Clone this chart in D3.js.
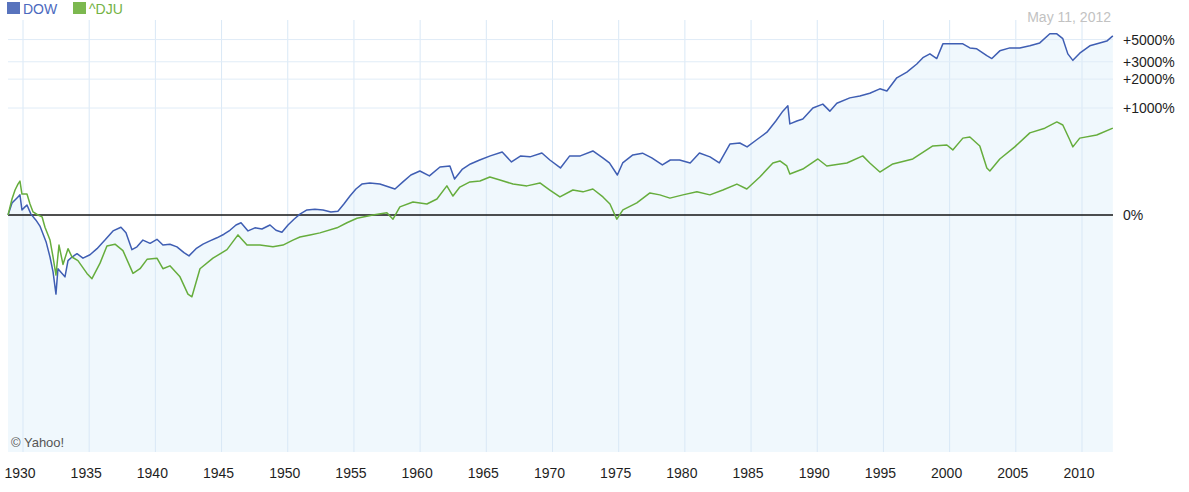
<!DOCTYPE html>
<html>
<head>
<meta charset="utf-8">
<script src="https://cdnjs.cloudflare.com/ajax/libs/d3/7.8.5/d3.min.js"></script>
<style>
  body { margin: 0; background: #fff; }
  svg { display: block; font-family: "Liberation Sans", Arial, sans-serif; }
</style>
</head>
<body>
<div class="chart"></div>
<script>
// percent change since first close
var dowYears = [1928.87, 1929.17, 1929.62, 1929.77, 1929.92, 1930.15, 1930.3, 1930.6, 1930.98, 1931.28,
  1931.74, 1932.04, 1932.27, 1932.49, 1932.64, 1932.95, 1933.17, 1933.4, 1933.7, 1934.08,
  1934.53, 1935.06, 1935.59, 1936.19, 1936.8, 1937.4, 1937.78, 1938.23, 1938.61, 1939.06,
  1939.6, 1940.12, 1940.57, 1941.1, 1941.63, 1942.16, 1942.54, 1943.07, 1943.6, 1944.12,
  1944.65, 1945.18, 1945.63, 1946.09, 1946.47, 1947.0, 1947.52, 1948.05, 1948.66, 1949.11,
  1949.56, 1950.02, 1950.47, 1950.92, 1951.45, 1952.05, 1952.66, 1953.26, 1953.79, 1954.24,
  1954.7, 1955.15, 1955.6, 1956.2, 1956.96, 1958.1, 1958.7, 1959.3, 1959.98, 1960.7,
  1961.5, 1962.25, 1962.6, 1963.2, 1963.8, 1964.5, 1965.3, 1966.2, 1966.9, 1967.6,
  1968.3, 1969.2, 1969.8, 1970.6, 1971.3, 1972.1, 1973.05, 1973.8, 1974.3, 1974.9,
  1975.3, 1976.07, 1976.8, 1977.5, 1978.3, 1978.9, 1979.6, 1980.4, 1981.1, 1981.9,
  1982.6, 1983.4, 1984.15, 1984.7, 1985.4, 1986.2, 1986.87, 1987.4, 1987.78, 1987.93,
  1988.46, 1988.91, 1989.67, 1990.42, 1990.95, 1991.48, 1992.46, 1993.22, 1993.97, 1994.73,
  1995.26, 1996.01, 1996.77, 1997.52, 1997.98, 1998.51, 1999.03, 1999.49, 2000.24, 2001.0,
  2001.53, 2002.05, 2002.81, 2003.19, 2003.79, 2004.55, 2005.3, 2006.06, 2006.81, 2007.57,
  2008.1, 2008.55, 2008.93, 2009.31, 2009.83, 2010.59, 2011.34, 2011.87, 2012.33];
var dowChange = [0, 31, 50, 57, 12, 20, 25, 2, -11, -22,
  -45, -61, -72, -83, -70, -73, -75, -64, -61, -58,
  -62, -59, -53, -43, -30, -24, -33, -54, -51, -43,
  -47, -42, -49, -48, -51, -57, -60, -53, -48, -44,
  -40, -35, -29, -20, -16, -30, -25, -27, -20, -29,
  -32, -20, -9, 2, 12, 14, 12, 7, 9, 28,
  53, 79, 100, 105, 100, 79, 110, 145, 168, 140,
  193, 200, 124, 180, 214, 243, 276, 310, 228, 276,
  268, 301, 243, 187, 276, 276, 320, 260, 221, 145,
  221, 284, 300, 260, 207, 243, 243, 221, 301, 268,
  221, 390, 402, 360, 437, 540, 722, 925, 1055, 670,
  722, 760, 1000, 1100, 925, 1125, 1280, 1340, 1430, 1590,
  1510, 2065, 2360, 2850, 3300, 3600, 3230, 4530, 4530, 4530,
  4130, 4040, 3450, 3230, 3860, 4130, 4130, 4330, 4630, 5700,
  5700, 5100, 3600, 3100, 3660, 4330, 4630, 4830, 5440];

var djuYears = [1928.87, 1929.17, 1929.4, 1929.62, 1929.77, 1929.92, 1930.3, 1930.53, 1930.76, 1931.13,
  1931.44, 1931.66, 1932.04, 1932.27, 1932.49, 1932.72, 1933.02, 1933.4, 1933.7, 1934.15,
  1934.83, 1935.21, 1935.82, 1936.34, 1936.95, 1937.55, 1938.31, 1938.84, 1939.37, 1940.12,
  1940.57, 1941.1, 1941.86, 1942.46, 1942.76, 1943.37, 1944.35, 1945.41, 1946.24, 1946.92,
  1947.9, 1948.88, 1949.64, 1950.39, 1950.92, 1951.68, 1952.43, 1953.72, 1954.47, 1955.23,
  1956.43, 1957.49, 1957.95, 1958.47, 1959.46, 1960.51, 1961.27, 1962.02, 1962.48, 1963.0,
  1963.76, 1964.52, 1965.27, 1966.03, 1967.02, 1968.07, 1969.05, 1969.8, 1970.56, 1971.54,
  1972.3, 1973.05, 1973.81, 1974.34, 1974.86, 1975.32, 1976.37, 1977.36, 1978.11, 1978.87,
  1979.85, 1980.91, 1981.89, 1982.87, 1983.93, 1984.68, 1985.66, 1986.65, 1987.18, 1987.7,
  1987.93, 1988.91, 1990.05, 1990.72, 1992.24, 1993.44, 1993.97, 1994.73, 1995.71, 1997.22,
  1998.73, 1999.79, 2000.24, 2001.0, 2001.53, 2002.28, 2002.81, 2003.04, 2003.79, 2004.92,
  2006.06, 2007.19, 2008.1, 2008.55, 2009.08, 2009.31, 2009.83, 2011.11, 2012.33];
var djuChange = [0, 43, 75, 100, 114, 60, 60, 28, 7, 0,
  -4, -24, -43, -61, -74, -49, -67, -53, -61, -64,
  -73, -76, -66, -50, -48, -55, -73, -70, -63, -62,
  -70, -68, -75, -83, -84, -70, -62, -54, -36, -49,
  -49, -51, -49, -43, -39, -36, -33, -25, -16, -7,
  0, 5, -9, 20, 34, 28, 43, 92, 53, 87,
  110, 114, 134, 119, 100, 92, 105, 75, 50, 75,
  68, 79, 50, 28, -9, 12, 31, 64, 57, 46,
  57, 68, 57, 75, 100, 79, 134, 221, 236, 200,
  151, 180, 251, 200, 221, 276, 221, 162, 214, 251,
  370, 380, 330, 460, 475, 370, 187, 168, 251, 360,
  530, 600, 705, 652, 437, 360, 460, 500, 600];

var tickYears = [1930, 1935, 1940, 1945, 1950, 1955, 1960, 1965, 1970, 1975, 1980,
  1985, 1990, 1995, 2000, 2005, 2010];
var tickPct = [5000, 3000, 2000, 1000, 0];

var dow = dowYears.map((t, i) => ({ t: t, v: 1 + dowChange[i] / 100 }));
var dju = djuYears.map((t, i) => ({ t: t, v: 1 + djuChange[i] / 100 }));

/////////////// LAYOUT ///////////////
var width = 1189, height = 492;
var plot = { left: 8, right: 1113, top: 20, bottom: 452 };

var svg = d3.select('.chart')
  .append('svg')
  .attr('width', width)
  .attr('height', height);

var xScale = d3.scaleLinear()
  .domain([1930, 2010])
  .range([23, 1082]);

// log scale on the growth ratio: 0% and +1000% anchor it
var yScale = d3.scaleLog()
  .domain([1, 11])
  .range([215, 108]);

// area under the DOW line
var area = d3.area()
  .x(d => xScale(d.t))
  .y0(plot.bottom)
  .y1(d => yScale(d.v));

svg.append('path')
  .attr('d', area(dow))
  .style('fill', '#f0f8fd');

// grid
svg.selectAll('.vgrid')
  .data(tickYears)
  .enter()
  .append('line')
  .attr('class', 'vgrid')
  .attr('x1', d => xScale(d))
  .attr('x2', d => xScale(d))
  .attr('y1', plot.top)
  .attr('y2', plot.bottom)
  .style('stroke', '#d9e8f6')
  .style('stroke-width', 1);

svg.selectAll('.hgrid')
  .data(tickPct.filter(p => p > 0))
  .enter()
  .append('line')
  .attr('class', 'hgrid')
  .attr('x1', plot.left)
  .attr('x2', plot.right)
  .attr('y1', d => yScale(1 + d / 100))
  .attr('y2', d => yScale(1 + d / 100))
  .style('stroke', '#e0ecf7')
  .style('stroke-width', 1);

// 0% baseline
svg.append('line')
  .attr('x1', plot.left)
  .attr('x2', plot.right)
  .attr('y1', yScale(1))
  .attr('y2', yScale(1))
  .style('stroke', '#151515')
  .style('stroke-width', 1.6);

var line = d3.line()
  .x(d => xScale(d.t))
  .y(d => yScale(d.v));

svg.append('path')
  .attr('d', line(dow))
  .style('fill', 'none')
  .style('stroke', '#3f5eb3')
  .style('stroke-width', 1.5)
  .style('stroke-linejoin', 'round');

svg.append('path')
  .attr('d', line(dju))
  .style('fill', 'none')
  .style('stroke', '#66ad3d')
  .style('stroke-width', 1.5)
  .style('stroke-linejoin', 'round');

// x axis labels
svg.selectAll('.xlab')
  .data(tickYears)
  .enter()
  .append('text')
  .attr('class', 'xlab')
  .attr('x', d => xScale(d) - 3)
  .attr('y', 478)
  .style('text-anchor', 'middle')
  .style('font-size', '14px')
  .style('fill', '#1e1e1e')
  .text(d => d);

// right labels
svg.selectAll('.ylab')
  .data(tickPct)
  .enter()
  .append('text')
  .attr('class', 'ylab')
  .attr('x', 1123)
  .attr('y', d => yScale(1 + d / 100) + 5)
  .style('font-size', '14px')
  .style('fill', '#1e1e1e')
  .text(d => d > 0 ? '+' + d + '%' : d + '%');

// legend
var legend = [
  { name: 'DOW', box: '#5873bd', text: '#4b69be', x: 7 },
  { name: '^DJU', box: '#7cb84f', text: '#73b244', x: 73 }
];
legend.forEach(l => {
  svg.append('rect')
    .attr('x', l.x).attr('y', 2)
    .attr('width', 13).attr('height', 12)
    .style('fill', l.box);
  svg.append('text')
    .attr('x', l.x + 16).attr('y', 14)
    .style('font-size', '14px')
    .style('fill', l.text)
    .text(l.name);
});

svg.append('text')
  .attr('x', 1111)
  .attr('y', 22)
  .style('text-anchor', 'end')
  .style('font-size', '14px')
  .style('fill', '#c2c2c2')
  .text('May 11, 2012');

svg.append('text')
  .attr('x', 11)
  .attr('y', 447)
  .style('font-size', '13px')
  .style('fill', '#555')
  .text('\u00a9 Yahoo!');
</script>
</body>
</html>
